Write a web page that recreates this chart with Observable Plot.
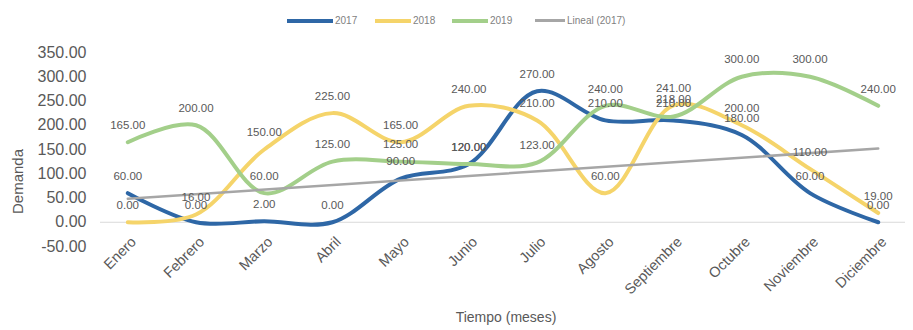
<!DOCTYPE html>
<html>
<head>
<meta charset="utf-8">
<script src="https://cdn.jsdelivr.net/npm/d3@7"></script>
<script src="https://cdn.jsdelivr.net/npm/@observablehq/plot@0.6"></script>
<style>
  body { margin: 0; background: #fff; font-family: "Liberation Sans", Arial, sans-serif; }
  #wrap { width: 913px; }
  #legend { height: 30px; position: relative; font-size: 10px; color: #7f7f7f; }
  .item { position: absolute; top: 15px; display: flex; align-items: center; }
  .sw { display: inline-block; height: 4px; margin-right: 2px; }
</style>
</head>
<body>
<div id="wrap">
  <div id="legend"></div>
  <div id="chart"></div>
</div>
<script>
const months = ["Enero","Febrero","Marzo","Abril","Mayo","Junio","Julio","Agosto","Septiembre","Octubre","Noviembre","Diciembre"];
const y2017 = [60, 0, 2, 0, 90, 120, 270, 210, 210, 180, 60, 0];
const y2018 = [0, 16, 150, 225, 165, 240, 210, 60, 241, 200, 110, 19];
const y2019 = [165, 200, 60, 125, 125, 120, 123, 240, 218, 300, 300, 240];
const seriesNames = ["2017", "2018", "2019"];
const trendName = "Lineal (2017)";
const yTicks = [-50, 0, 50, 100, 150, 200, 250, 300, 350];
const colors = {"2017": "#2e67a6", "2018": "#f5d46a", "2019": "#a3cf8a", "trend": "#a6a6a6"};

const rows = [];
[y2017, y2018, y2019].forEach((arr, s) => arr.forEach((v, i) => rows.push({series: seriesNames[s], m: i + 1, v})));

// linear trendline of 2017 (least squares)
const xs = y2017.map((_, i) => i + 1);
const mx = d3.mean(xs), my = d3.mean(y2017);
const slope = d3.sum(xs, (x, i) => (x - mx) * (y2017[i] - my)) / d3.sum(xs, x => (x - mx) ** 2);
const trend = [1, 12].map(x => ({m: x, v: my + slope * (x - mx)}));

const fontFam = "Liberation Sans, Arial, sans-serif";
const plot = Plot.plot({
  width: 913,
  height: 300,
  marginTop: 22,
  marginBottom: 84,
  marginLeft: 100,
  marginRight: 8,
  style: {fontFamily: fontFam, background: "#fff"},
  x: {domain: [0.6, 12.4], axis: null},
  y: {domain: [-50, 350], axis: null},
  marks: [
    Plot.ruleY([0], {stroke: "#d9d9d9", strokeWidth: 1}),
    Plot.axisY({ticks: yTicks, tickFormat: d => d.toFixed(2), tickSize: 0, tickPadding: 14, fontSize: 16, fill: "#595959", label: null}),
    Plot.axisX({ticks: xs, tickFormat: d => months[d - 1], tickSize: 0, tickPadding: 0, dx: 6, dy: -7, tickRotate: -45, fontSize: 14.5, fill: "#595959", label: null}),
    ...seriesNames.map(s => Plot.line(rows.filter(d => d.series === s), {x: "m", y: "v", stroke: colors[s], strokeWidth: 4, curve: "catmull-rom"})),
    Plot.line(trend, {x: "m", y: "v", stroke: colors.trend, strokeWidth: 2.5}),
    Plot.text(rows, {x: "m", y: "v", text: d => d.v.toFixed(2), dy: -17, fontSize: 11.5, fill: "#595959"}),
    Plot.text(["Demanda"], {frameAnchor: "left", textAnchor: "middle", dx: -82, dy: 32, rotate: -90, fontSize: 15, fill: "#595959"}),
    Plot.text(["Tiempo (meses)"], {frameAnchor: "bottom", textAnchor: "middle", dx: 3, dy: 75, fontSize: 14, fill: "#595959"})
  ]
});
document.getElementById("chart").appendChild(plot);

// legend
const legendItems = [
  {name: "2017", color: colors["2017"], left: 287, w: 46, h: 4},
  {name: "2018", color: colors["2018"], left: 375, w: 36, h: 4},
  {name: "2019", color: colors["2019"], left: 452, w: 36, h: 4},
  {name: trendName, color: colors.trend, left: 535, w: 30, h: 2.5}
];
const leg = document.getElementById("legend");
legendItems.forEach(it => {
  const el = document.createElement("div");
  el.className = "item";
  el.style.left = it.left + "px";
  const sw = document.createElement("span");
  sw.className = "sw";
  sw.style.width = it.w + "px";
  sw.style.height = it.h + "px";
  sw.style.background = it.color;
  const tx = document.createElement("span");
  tx.textContent = it.name;
  el.appendChild(sw);
  el.appendChild(tx);
  leg.appendChild(el);
});
</script>
</body>
</html>
